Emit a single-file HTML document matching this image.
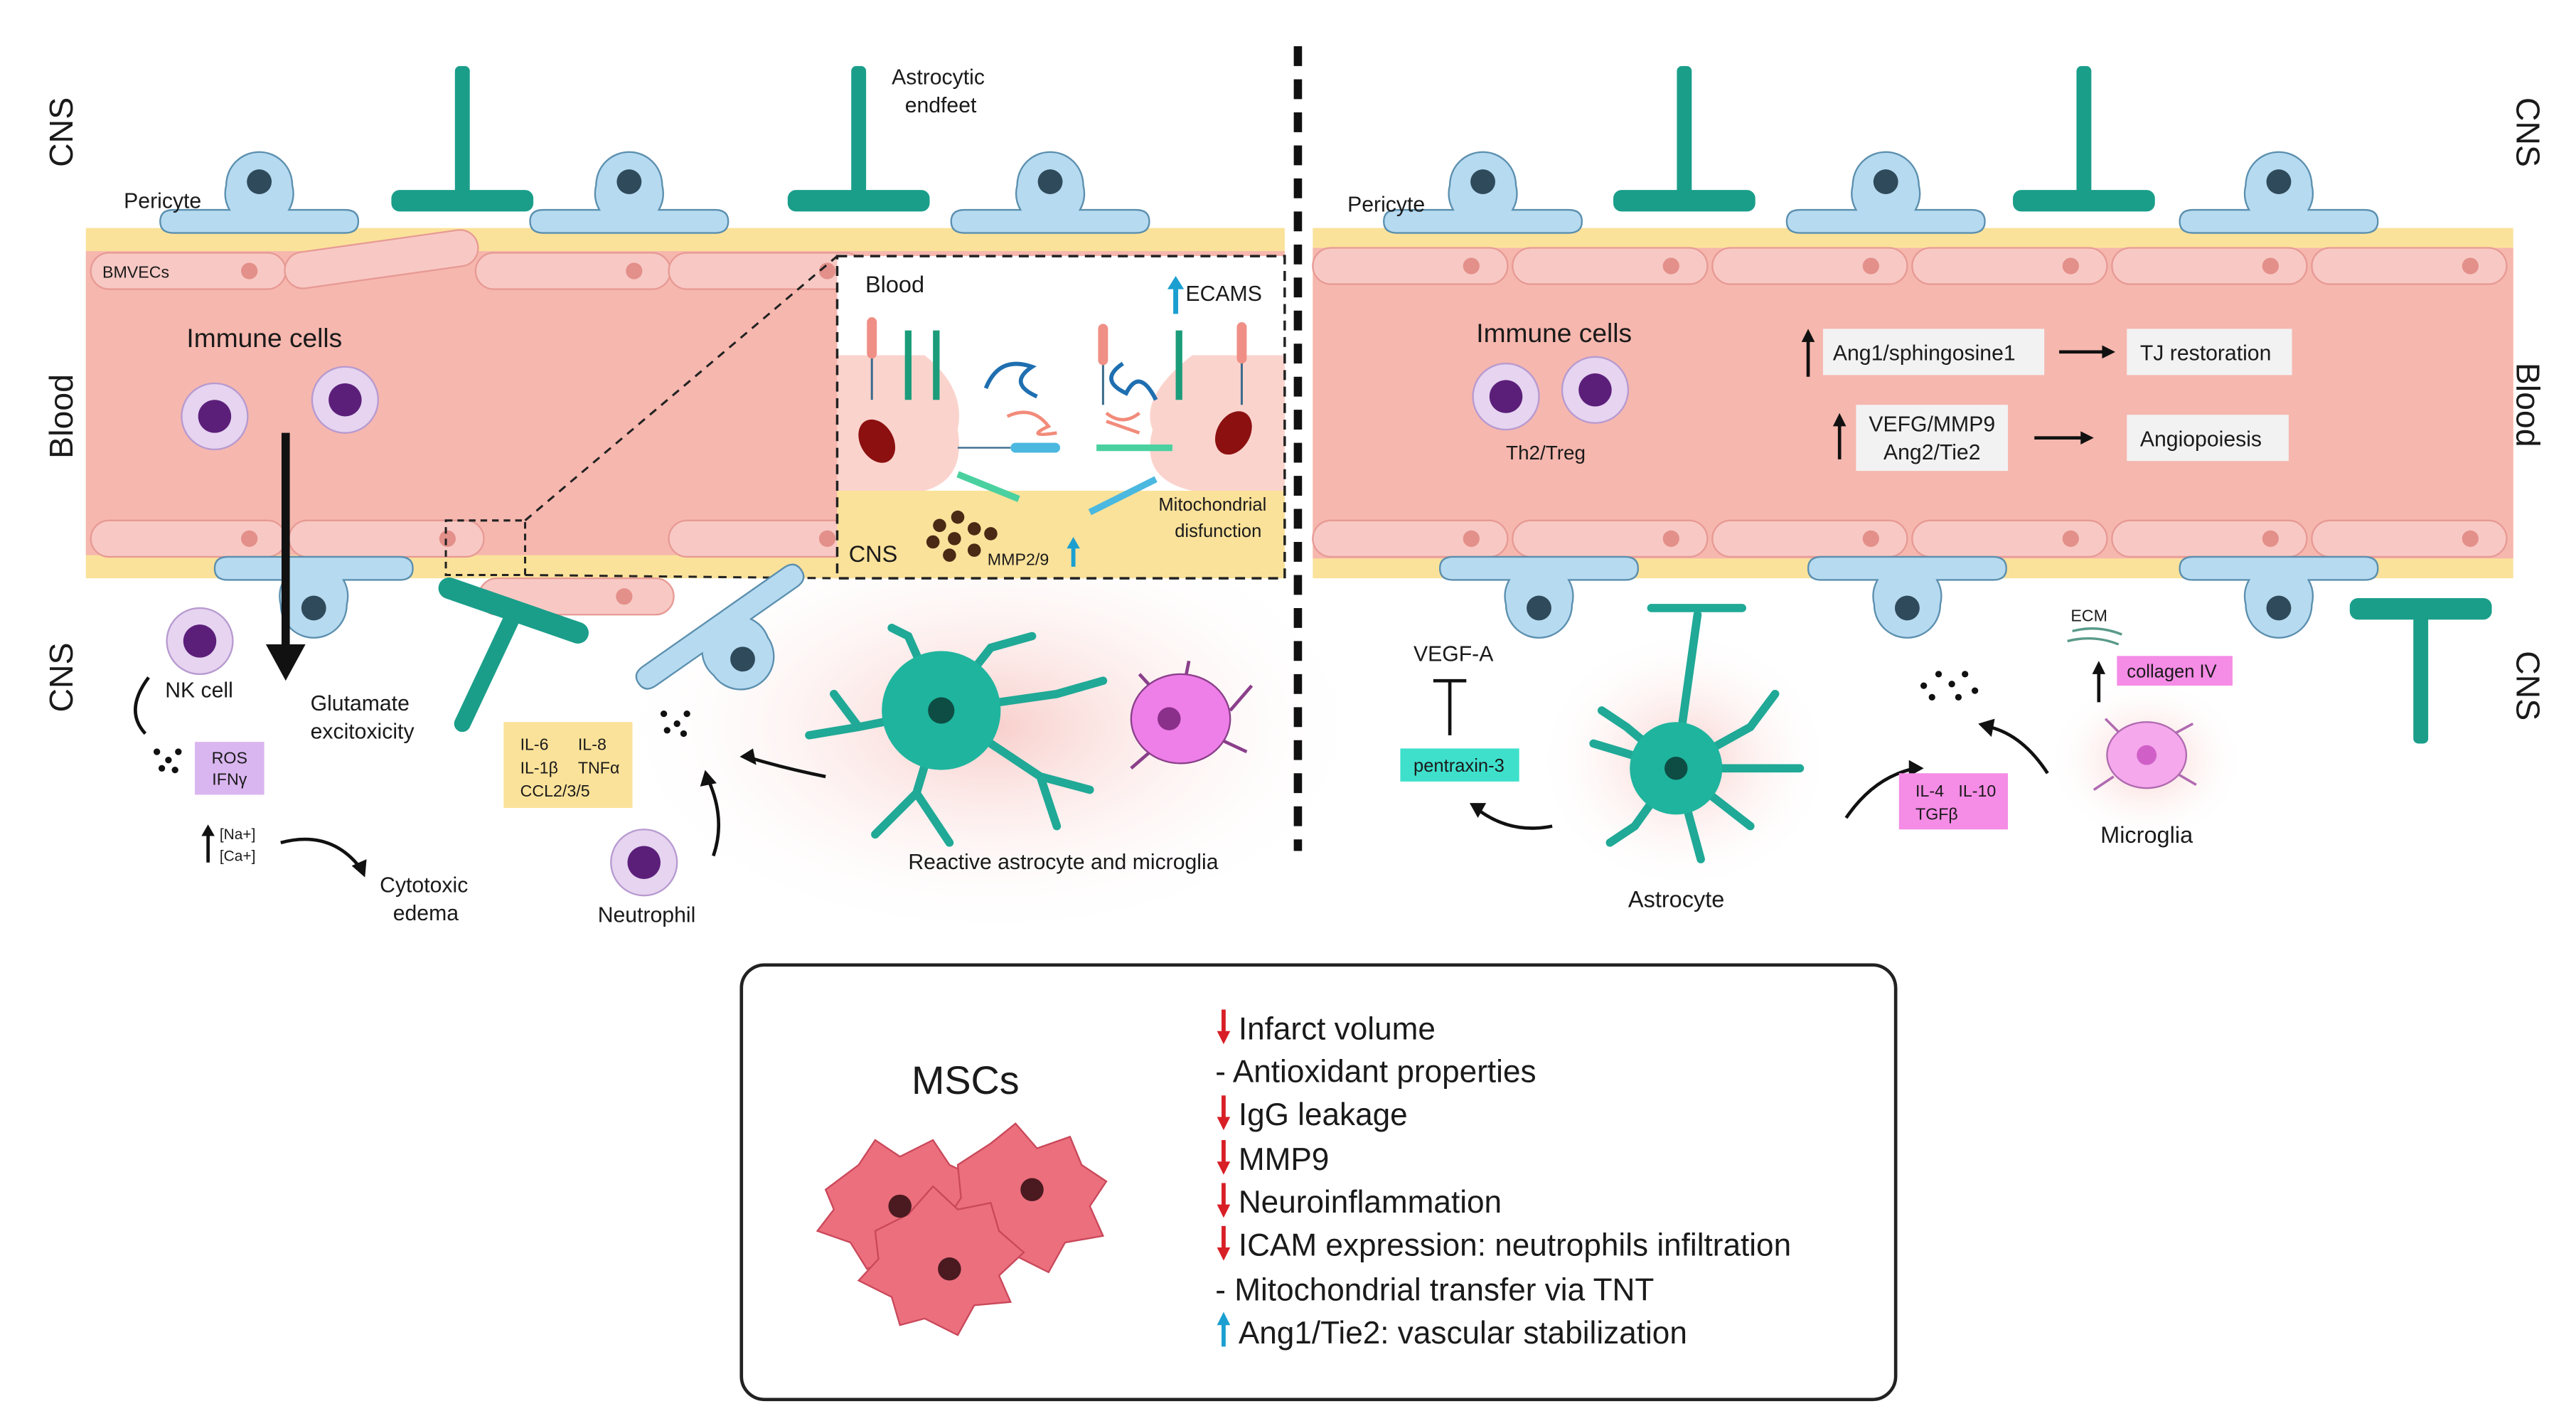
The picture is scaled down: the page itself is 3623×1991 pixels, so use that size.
<!DOCTYPE html>
<html><head><meta charset="utf-8"><style>html,body{margin:0;padding:0;background:#fff}svg{display:block}text{font-family:"Liberation Sans",sans-serif;fill:#1a1a1a}</style></head>
<body>
<svg width="3623" height="1991" viewBox="0 0 1560 857" preserveAspectRatio="none" xmlns="http://www.w3.org/2000/svg">
<defs>
<radialGradient id="glow" cx="0.5" cy="0.5" r="0.5"><stop offset="0" stop-color="#f7c9c5" stop-opacity="0.9"/><stop offset="1" stop-color="#fff" stop-opacity="0"/></radialGradient>
<g id="peri"><path d="M-60,12 Q-60,5 -52,5 L-18,5 Q-22,-2 -20,-10 A20,20 0 1 1 20,-10 Q22,-2 18,5 L52,5 Q60,5 60,12 Q60,19 52,19 L-52,19 Q-60,19 -60,12Z" fill="#b6daf0" stroke="#5b8fae" stroke-width="1"/><circle cx="0" cy="-12" r="7.5" fill="#2f4a5a"/></g>
<g id="endT"><rect x="-4.5" y="0" width="9" height="82" rx="3" fill="#1a9e8a"/><rect x="-43" y="75" width="86" height="13" rx="5" fill="#1a9e8a"/></g>
<g id="imm"><circle r="20" fill="#e6d4f0" stroke="#b79ad0"/><circle r="10" fill="#5b1f7a"/></g>
<g id="cell"><rect x="0" y="0" width="118" height="22" rx="11" fill="#f8c9c4" stroke="#e79a95"/><circle cx="96" cy="11" r="5" fill="#e38f8a"/></g>
</defs>

<ellipse cx="600" cy="440" rx="230" ry="130" fill="url(#glow)"/>
<ellipse cx="1020" cy="460" rx="90" ry="80" fill="url(#glow)"/>
<ellipse cx="1300" cy="460" rx="60" ry="50" fill="url(#glow)"/>

<rect x="52" y="138" width="726" height="212" fill="#fbe29a"/>
<rect x="52" y="152" width="726" height="184" fill="#f6b7ae"/>
<g>
<use href="#cell" x="55" y="153"/><use href="#cell" x="288" y="153"/><use href="#cell" x="405" y="153"/>
<use href="#cell" x="55" y="315"/><use href="#cell" x="175" y="315"/><use href="#cell" x="405" y="315"/>
<rect x="172" y="146" width="118" height="22" rx="11" fill="#f8c9c4" stroke="#e79a95" transform="rotate(-8 230 157)"/>
<rect x="290" y="350" width="118" height="22" rx="11" fill="#f8c9c4" stroke="#e79a95"/><circle cx="378" cy="361" r="5" fill="#e38f8a"/>
</g>
<text x="62" y="168" font-size="10">BMVECs</text>
<rect x="507" y="155" width="271" height="195" fill="#fff"/>
<rect x="507" y="297" width="271" height="53" fill="#fbe29a"/>
<path d="M507,215 L560,215 Q585,235 580,260 Q585,290 560,297 L507,297Z" fill="#fbd3cd"/>
<path d="M778,215 L722,215 Q690,240 698,260 Q690,290 722,297 L778,297Z" fill="#fbd3cd"/>
<rect x="507" y="155" width="271" height="195" fill="none" stroke="#222" stroke-width="1.5" stroke-dasharray="6 4"/>
<rect x="270" y="315" width="48" height="33" fill="none" stroke="#222" stroke-width="1.3" stroke-dasharray="4 3"/>
<line x1="318" y1="315" x2="507" y2="155" stroke="#222" stroke-width="1.3" stroke-dasharray="5 4"/>
<line x1="318" y1="348" x2="507" y2="350" stroke="#222" stroke-width="1.3" stroke-dasharray="5 4"/>
<text x="524" y="177" font-size="14">Blood</text>
<text x="718" y="182" font-size="13">ECAMS</text>
<path d="M712,190 V172" stroke="#1b9fd0" stroke-width="3"/><path d="M707,175 L712,167 L717,175Z" fill="#1b9fd0"/>
<g stroke="#1b9c7a" stroke-width="4"><line x1="550" y1="200" x2="550" y2="242"/><line x1="567" y1="200" x2="567" y2="242"/><line x1="714" y1="200" x2="714" y2="242"/></g>
<g stroke="#3b6c8d" stroke-width="1.3"><line x1="528" y1="205" x2="528" y2="242"/><line x1="668" y1="208" x2="668" y2="245"/><line x1="752" y1="205" x2="752" y2="245"/></g>
<g fill="#ef8f86"><rect x="525" y="192" width="6" height="25" rx="3"/><rect x="665" y="196" width="6" height="25" rx="3"/><rect x="749" y="195" width="6" height="25" rx="3"/></g>
<ellipse cx="531" cy="267" rx="10" ry="14" fill="#8c1010" transform="rotate(-30 531 267)"/>
<ellipse cx="747" cy="262" rx="10" ry="14" fill="#8c1010" transform="rotate(30 747 262)"/>
<path d="M597,235 Q605,215 625,222 Q610,232 628,240" stroke="#1f6fb0" stroke-width="2.5" fill="none"/>
<path d="M680,220 Q665,230 682,238 Q690,222 700,242" stroke="#1f6fb0" stroke-width="2.5" fill="none"/>
<path d="M610,252 Q625,245 635,258 Q620,265 640,262" stroke="#f28b7a" stroke-width="2" fill="none"/>
<path d="M670,250 Q680,258 690,250 M670,255 L690,262" stroke="#f28b7a" stroke-width="2" fill="none"/>
<line x1="580" y1="271" x2="612" y2="271" stroke="#3b6c8d"/><rect x="612" y="268" width="30" height="6" rx="3" fill="#4bb8e0"/>
<line x1="664" y1="271" x2="710" y2="271" stroke="#4bd1a0" stroke-width="4"/>
<line x1="580" y1="287" x2="617" y2="302" stroke="#4bd1a0" stroke-width="4"/>
<line x1="660" y1="310" x2="700" y2="290" stroke="#4bb8e0" stroke-width="4"/>
<g fill="#4a2a15"><circle cx="569" cy="318" r="4"/><circle cx="580" cy="313" r="4"/><circle cx="590" cy="320" r="4"/><circle cx="565" cy="328" r="4"/><circle cx="578" cy="326" r="4"/><circle cx="600" cy="323" r="4"/><circle cx="575" cy="336" r="4"/><circle cx="590" cy="333" r="4"/></g>
<text x="514" y="340" font-size="14">CNS</text>
<text x="598" y="342" font-size="10">MMP2/9</text>
<path d="M650,343 V330" stroke="#1b9fd0" stroke-width="2.5"/><path d="M646,332 L650,325 L654,332Z" fill="#1b9fd0"/>
<text x="767" y="309" font-size="11" text-anchor="end">Mitochondrial</text>
<text x="764" y="325" font-size="11" text-anchor="end">disfunction</text>

<use href="#peri" x="157" y="122"/><use href="#peri" x="381" y="122"/><use href="#peri" x="636" y="122"/>
<use href="#endT" x="280" y="40"/><use href="#endT" x="520" y="40"/>
<text x="75" y="126" font-size="13">Pericyte</text>
<text x="540" y="51" font-size="13">Astrocytic</text>
<text x="548" y="68" font-size="13">endfeet</text>
<text x="113" y="210" font-size="16">Immune cells</text>
<use href="#imm" x="130" y="252"/><use href="#imm" x="209" y="242"/>
<use href="#peri" x="190" y="356" transform="rotate(180 190 356)"/>
<g transform="rotate(-35 440 385)"><use href="#peri" x="440" y="390" transform="rotate(180 440 390)"/></g>
<line x1="272" y1="356" x2="350" y2="383" stroke="#1a9e8a" stroke-width="13" stroke-linecap="round"/>
<line x1="312" y1="370" x2="280" y2="438" stroke="#1a9e8a" stroke-width="10" stroke-linecap="round"/>
<path d="M173,262 V390" stroke="#111" stroke-width="5"/><path d="M161,390 L173,412 L185,390Z" fill="#111"/>
<use href="#imm" x="121" y="388"/>
<text x="100" y="422" font-size="13">NK cell</text>
<path d="M90,410 Q75,430 88,444" stroke="#111" stroke-width="2" fill="none"/>
<g fill="#111"><circle cx="95" cy="455" r="2"/><circle cx="102" cy="460" r="2"/><circle cx="98" cy="465" r="2"/><circle cx="108" cy="455" r="2"/><circle cx="106" cy="466" r="2"/></g>
<rect x="118" y="449" width="42" height="32" fill="#dab6f0"/>
<text x="139" y="462" font-size="10" text-anchor="middle">ROS</text><text x="139" y="475" font-size="10" text-anchor="middle">IFNγ</text>
<path d="M126,522 V503" stroke="#111" stroke-width="2"/><path d="M122,506 L126,499 L130,506Z" fill="#111"/>
<text x="133" y="508" font-size="9">[Na+]</text><text x="133" y="521" font-size="9">[Ca+]</text>
<path d="M170,510 Q200,502 218,525" stroke="#111" stroke-width="2" fill="none"/><path d="M213,524 L221,531 L222,520Z" fill="#111"/>
<text x="230" y="540" font-size="13">Cytotoxic</text><text x="238" y="557" font-size="13">edema</text>
<text x="188" y="430" font-size="13">Glutamate</text><text x="188" y="447" font-size="13">excitoxicity</text>
<rect x="305" y="437" width="78" height="52" fill="#fbe29a"/>
<text x="315" y="454" font-size="10">IL-6</text><text x="350" y="454" font-size="10">IL-8</text>
<text x="315" y="468" font-size="10">IL-1β</text><text x="350" y="468" font-size="10">TNFα</text>
<text x="315" y="482" font-size="10">CCL2/3/5</text>
<g fill="#111"><circle cx="402" cy="432" r="2"/><circle cx="410" cy="438" r="2"/><circle cx="404" cy="442" r="2"/><circle cx="416" cy="432" r="2"/><circle cx="414" cy="444" r="2"/></g>
<use href="#imm" x="390" y="522"/>
<text x="362" y="558" font-size="13">Neutrophil</text>
<path d="M432,518 Q440,495 428,470" stroke="#111" stroke-width="2" fill="none"/><path d="M424,476 L427,466 L434,474Z" fill="#111"/>
<path d="M500,470 Q475,465 452,458" stroke="#111" stroke-width="2" fill="none"/><path d="M456,453 L448,458 L458,463Z" fill="#111"/>
<g stroke="#1fa996" stroke-width="5" stroke-linecap="round" fill="none"><path d="M570,430 L520,440 L490,445 M520,440 L505,420 M570,430 L550,385 L540,380 M570,430 L600,392 L625,385 M570,430 L640,420 L668,412 M570,430 L630,470 L640,500 M630,470 L660,478 M570,430 L555,480 L530,505 M555,480 L575,510"/></g>
<circle cx="570" cy="430" r="36" fill="#1fb49e"/><circle cx="570" cy="430" r="8" fill="#0d4d44"/>
<g stroke="#8a3f8a" stroke-width="2" fill="none"><path d="M712,432 L690,408 M745,430 L758,415 M740,448 L755,455 M700,452 L685,465 M718,410 L720,400"/></g>
<ellipse cx="715" cy="435" rx="30" ry="27" fill="#ee7ee8" stroke="#8a3f8a"/><circle cx="708" cy="435" r="7" fill="#8a2f8a"/>
<text x="550" y="526" font-size="13">Reactive astrocyte and microglia</text>

<line x1="786" y1="28" x2="786" y2="515" stroke="#111" stroke-width="5" stroke-dasharray="12 8"/>

<rect x="795" y="138" width="727" height="212" fill="#fbe29a"/>
<rect x="795" y="150" width="727" height="188" fill="#f6b7ae"/>
<g>
<use href="#cell" x="795" y="150"/><use href="#cell" x="916" y="150"/><use href="#cell" x="1037" y="150"/><use href="#cell" x="1158" y="150"/><use href="#cell" x="1279" y="150"/><use href="#cell" x="1400" y="150"/>
<use href="#cell" x="795" y="315"/><use href="#cell" x="916" y="315"/><use href="#cell" x="1037" y="315"/><use href="#cell" x="1158" y="315"/><use href="#cell" x="1279" y="315"/><use href="#cell" x="1400" y="315"/>
</g>
<use href="#peri" x="898" y="122"/><use href="#peri" x="1142" y="122"/><use href="#peri" x="1380" y="122"/>
<use href="#endT" x="1020" y="40"/><use href="#endT" x="1262" y="40"/>
<use href="#peri" x="932" y="356" transform="rotate(180 932 356)"/><use href="#peri" x="1155" y="356" transform="rotate(180 1155 356)"/><use href="#peri" x="1380" y="356" transform="rotate(180 1380 356)"/>
<g transform="translate(1466,450) rotate(180)"><use href="#endT" x="0" y="0"/></g>
<text x="816" y="128" font-size="13">Pericyte</text>
<text x="894" y="207" font-size="16">Immune cells</text>
<use href="#imm" x="912" y="240"/><use href="#imm" x="966" y="236"/>
<text x="912" y="278" font-size="12">Th2/Treg</text>
<path d="M1095,228 V203" stroke="#111" stroke-width="2"/><path d="M1091,207 L1095,199 L1099,207Z" fill="#111"/>
<rect x="1104" y="199" width="134" height="28" fill="#f2f2f2"/><text x="1110" y="218" font-size="13">Ang1/sphingosine1</text>
<path d="M1247,213 H1275" stroke="#111" stroke-width="2"/><path d="M1273,209 L1281,213 L1273,217Z" fill="#111"/>
<rect x="1288" y="199" width="100" height="28" fill="#f2f2f2"/><text x="1296" y="218" font-size="13">TJ restoration</text>
<path d="M1114,278 V254" stroke="#111" stroke-width="2"/><path d="M1110,258 L1114,250 L1118,258Z" fill="#111"/>
<rect x="1124" y="245" width="92" height="40" fill="#f2f2f2"/>
<text x="1170" y="261" font-size="13" text-anchor="middle">VEFG/MMP9</text><text x="1170" y="278" font-size="13" text-anchor="middle">Ang2/Tie2</text>
<path d="M1232,265 H1262" stroke="#111" stroke-width="2"/><path d="M1260,261 L1268,265 L1260,269Z" fill="#111"/>
<rect x="1288" y="251" width="98" height="28" fill="#f2f2f2"/><text x="1296" y="270" font-size="13">Angiopoiesis</text>
<text x="856" y="400" font-size="13">VEGF-A</text>
<path d="M878,445 V412 M868,412 H888" stroke="#111" stroke-width="2"/>
<rect x="848" y="453" width="72" height="20" fill="#3ee0cc"/><text x="856" y="467" font-size="11">pentraxin-3</text>
<path d="M940,500 Q915,505 895,490" stroke="#111" stroke-width="2" fill="none"/><path d="M900,486 L890,486 L895,495Z" fill="#111"/>
<g stroke="#1fa996" stroke-width="5" stroke-linecap="round" fill="none"><path d="M1015,465 L1028,372 M1000,368 H1055 M1015,465 L965,450 M1015,465 L985,440 L970,430 M1015,465 L1060,440 L1075,420 M1015,465 L1090,465 M1015,465 L990,500 L975,510 M1015,465 L1030,520 M1015,465 L1060,500"/></g>
<circle cx="1015" cy="465" r="28" fill="#1fb49e"/><circle cx="1015" cy="465" r="7" fill="#0d4d44"/>
<text x="986" y="549" font-size="14">Astrocyte</text>
<path d="M1118,495 Q1135,470 1160,465" stroke="#111" stroke-width="2" fill="none"/><path d="M1156,460 L1165,465 L1156,470Z" fill="#111"/>
<g fill="#111"><circle cx="1165" cy="415" r="2"/><circle cx="1174" cy="408" r="2"/><circle cx="1182" cy="414" r="2"/><circle cx="1190" cy="408" r="2"/><circle cx="1170" cy="422" r="2"/><circle cx="1186" cy="422" r="2"/><circle cx="1196" cy="418" r="2"/></g>
<rect x="1150" y="468" width="66" height="34" fill="#f58ce6"/>
<text x="1160" y="482" font-size="10">IL-4</text><text x="1186" y="482" font-size="10">IL-10</text><text x="1160" y="496" font-size="10">TGFβ</text>
<path d="M1240,468 Q1225,445 1205,440" stroke="#111" stroke-width="2" fill="none"/><path d="M1208,435 L1198,438 L1206,446Z" fill="#111"/>
<g stroke="#b06ab0" stroke-width="1.5" fill="none"><path d="M1285,445 L1275,435 M1315,445 L1328,438 M1318,468 L1330,475 M1280,470 L1268,478"/></g>
<ellipse cx="1300" cy="457" rx="24" ry="20" fill="#f5a8ec" stroke="#b06ab0"/><circle cx="1300" cy="457" r="6" fill="#d060c8"/>
<text x="1272" y="510" font-size="14">Microglia</text>
<text x="1254" y="376" font-size="10">ECM</text>
<path d="M1255,382 Q1270,378 1285,384 M1252,388 Q1268,384 1283,390" stroke="#5a9a8a" stroke-width="1.5" fill="none"/>
<path d="M1271,425 V405" stroke="#111" stroke-width="2"/><path d="M1267,408 L1271,400 L1275,408Z" fill="#111"/>
<rect x="1282" y="397" width="70" height="18" fill="#f58ce6"/><text x="1288" y="410" font-size="11">collagen IV</text>

<text transform="translate(44,80) rotate(-90)" text-anchor="middle" font-size="20">CNS</text>
<text transform="translate(44,252) rotate(-90)" text-anchor="middle" font-size="20">Blood</text>
<text transform="translate(44,410) rotate(-90)" text-anchor="middle" font-size="20">CNS</text>
<text transform="translate(1524,80) rotate(90)" text-anchor="middle" font-size="20">CNS</text>
<text transform="translate(1524,245) rotate(90)" text-anchor="middle" font-size="20">Blood</text>
<text transform="translate(1524,415) rotate(90)" text-anchor="middle" font-size="20">CNS</text>

<rect x="449" y="584" width="699" height="263" rx="14" fill="#fff" stroke="#222" stroke-width="2"/>
<text x="552" y="662" font-size="24">MSCs</text>
<g fill="#ec6f7e" stroke="#c9485a" stroke-width="1">
<path d="M500,720 L520,705 L530,690 L545,700 L565,690 L575,705 L590,712 L585,730 L595,745 L575,752 L565,770 L545,760 L525,768 L515,752 L495,745 L505,732Z"/>
<path d="M580,705 L600,692 L615,680 L628,695 L648,688 L655,705 L670,715 L660,730 L668,748 L645,752 L635,770 L615,760 L595,765 L590,748 L572,740 L582,725Z"/>
<path d="M530,745 L550,735 L565,718 L580,732 L600,728 L605,745 L620,758 L605,772 L612,788 L590,790 L580,808 L560,798 L545,802 L540,785 L520,775 L532,762Z"/>
</g>
<g fill="#4a1a20"><circle cx="545" cy="730" r="7"/><circle cx="625" cy="720" r="7"/><circle cx="575" cy="768" r="7"/></g>
<g font-size="19">
<text x="750" y="629">Infarct volume</text>
<text x="736" y="655">- Antioxidant properties</text>
<text x="750" y="681">IgG leakage</text>
<text x="750" y="708">MMP9</text>
<text x="750" y="734">Neuroinflammation</text>
<text x="750" y="760">ICAM expression: neutrophils infiltration</text>
<text x="736" y="787">- Mitochondrial transfer via TNT</text>
<text x="750" y="813">Ang1/Tie2: vascular stabilization</text>
</g>
<g fill="#d81f26" stroke="#d81f26">
<g stroke-width="2.5"><line x1="741" y1="611" x2="741" y2="626"/><line x1="741" y1="663" x2="741" y2="678"/><line x1="741" y1="690" x2="741" y2="705"/><line x1="741" y1="716" x2="741" y2="731"/><line x1="741" y1="742" x2="741" y2="757"/></g>
<path d="M737,624 L741,632 L745,624Z M737,676 L741,684 L745,676Z M737,703 L741,711 L745,703Z M737,729 L741,737 L745,729Z M737,755 L741,763 L745,755Z" stroke="none"/>
</g>
<line x1="741" y1="800" x2="741" y2="815" stroke="#1b9fd0" stroke-width="2.5"/><path d="M737,802 L741,794 L745,802Z" fill="#1b9fd0"/>
</svg>
</body></html>
